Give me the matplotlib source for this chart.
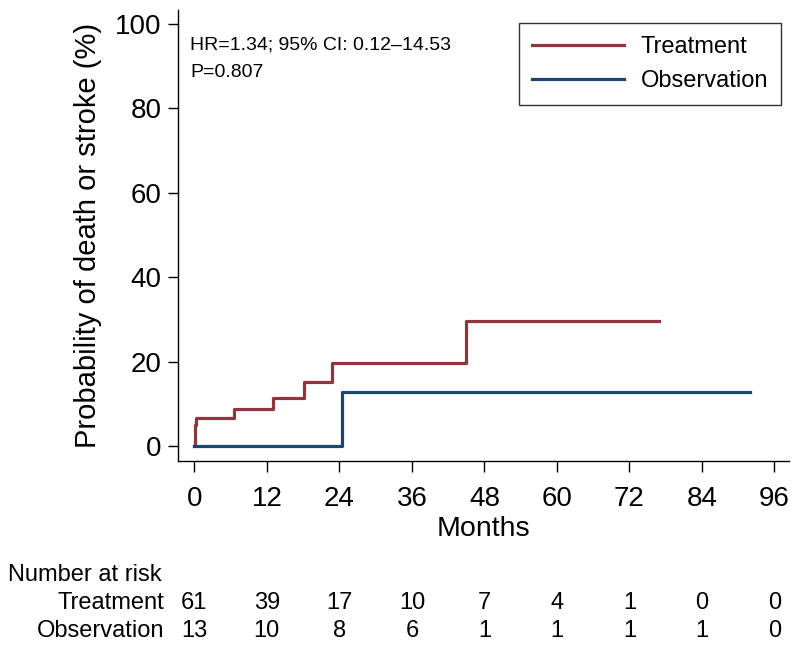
import matplotlib
matplotlib.use("Agg")
import matplotlib.pyplot as plt

plt.rcParams['font.family'] = ['Liberation Sans', 'DejaVu Sans']

# Kaplan-Meier style cumulative incidence (step after each time)
treat_t = [0, 0.05, 0.35, 6.6, 13.0, 18.2, 22.8, 45.0, 76.9]
treat_y = [0, 5.0, 6.7, 8.7, 11.4, 15.2, 19.6, 29.7, 29.7]
obs_t = [0, 24.5, 91.9]
obs_y = [0, 12.7, 12.7]

risk_times = [0, 12, 24, 36, 48, 60, 72, 84, 96]
risk_treat = [61, 39, 17, 10, 7, 4, 1, 0, 0]
risk_obs = [13, 10, 8, 6, 1, 1, 1, 1, 0]

red = '#90353B'
blue = '#1A476F'

fig = plt.figure(figsize=(8, 6.48), dpi=100)
ax = fig.add_axes([0.2225, 0.2886, 0.76375, 0.696])

ax.step(treat_t, treat_y, where='post', color=red, lw=2.3, label='Treatment')
ax.step(obs_t, obs_y, where='post', color=blue, lw=2.3, label='Observation')

ax.set_xlim(-2.7, 98.4)
ax.set_ylim(-3.55, 103.3)
ax.set_xticks(risk_times)
ax.set_yticks([0, 20, 40, 60, 80, 100])
ax.tick_params(axis='both', labelsize=20, width=1, color='black')
ax.tick_params(axis='x', length=8, pad=10)
ax.tick_params(axis='y', length=7, pad=5)
for s in ['top', 'right']:
    ax.spines[s].set_visible(False)
for s in ['left', 'bottom']:
    ax.spines[s].set_linewidth(1)

ax.set_xlabel('Months', fontsize=20.5, labelpad=3)
ax.set_ylabel('Probability of death or stroke (%)', fontsize=21, labelpad=9)

ax.text(0.02, 0.922, 'HR=1.34; 95% CI: 0.12\u201314.53', transform=ax.transAxes,
        fontsize=14, va='center', ha='left')
ax.text(0.02, 0.862, 'P=0.807', transform=ax.transAxes,
        fontsize=14, va='center', ha='left')

leg = ax.legend(loc='upper right', bbox_to_anchor=(781 / 800, 1 - 23 / 648),
                bbox_transform=fig.transFigure, fontsize=17, frameon=True,
                fancybox=False, edgecolor='black', handlelength=3.9,
                handletextpad=0.7, borderpad=0.55, labelspacing=0.5,
                borderaxespad=0)
leg.get_frame().set_linewidth(1)

# number at risk table
fig.text(8 / 800, 1 - 575 / 648, 'Number at risk', fontsize=17, ha='left', va='center')
fig.text(164 / 800, 1 - 603 / 648, 'Treatment', fontsize=17, ha='right', va='center')
fig.text(164 / 800, 1 - 631 / 648, 'Observation', fontsize=17, ha='right', va='center')
for t, a, b in zip(risk_times, risk_treat, risk_obs):
    xf = fig.transFigure.inverted().transform(ax.transData.transform((t, 0)))[0]
    fig.text(xf, 1 - 603 / 648, str(a), fontsize=17, ha='center', va='center')
    fig.text(xf, 1 - 631 / 648, str(b), fontsize=17, ha='center', va='center')

fig.savefig('out.png', dpi=100)
